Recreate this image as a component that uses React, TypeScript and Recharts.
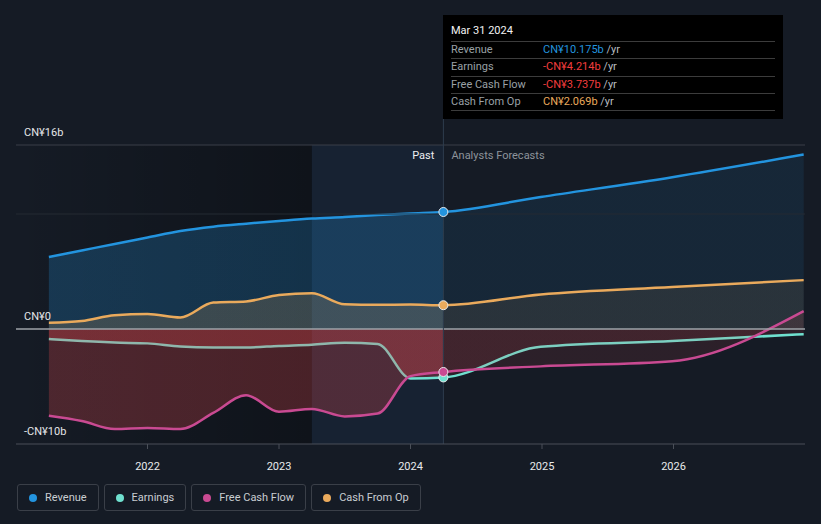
import React from 'react';
import {
  ComposedChart,
  Area,
  XAxis,
  YAxis,
  ReferenceLine,
  ReferenceArea,
  ReferenceDot,
} from 'recharts';

// ---- data (CN¥ billions, fractional years) ----
const pastDates = [2021.25, 2021.5, 2021.75, 2022.0, 2022.25, 2022.5, 2022.75, 2023.0, 2023.25, 2023.5, 2023.75, 2024.0, 2024.25];
const revenuePast = [6.26, 6.83, 7.4, 7.96, 8.52, 8.9, 9.16, 9.39, 9.6, 9.74, 9.91, 10.05, 10.175];
const earningsPast = [-0.87, -1.05, -1.18, -1.25, -1.52, -1.6, -1.6, -1.47, -1.37, -1.2, -1.3, -4.3, -4.214];
const fcfPast = [-7.54, -8.0, -8.7, -8.6, -8.7, -7.3, -5.75, -7.2, -6.95, -7.6, -7.35, -4.1, -3.737];
const cfoPast = [0.55, 0.7, 1.2, 1.3, 1.0, 2.3, 2.4, 2.95, 3.1, 2.15, 2.1, 2.12, 2.069];

// forecasts (first entry = last reported point)
const forecastDates = [2024.25, 2024.99, 2025.99, 2026.99];
const revenueForecast = [10.175, 11.48, 13.2, 15.17];
const earningsForecast = [-4.214, -1.55, -1.05, -0.45];
const fcfForecast = [-3.737, -3.25, -2.8, 1.56];
const cfoForecast = [2.069, 3.0, 3.65, 4.25];

const yearTicks = [2022, 2023, 2024, 2025, 2026];
const yLabels = ['CN¥16b', 'CN¥0', '-CN¥10b'];
const tooltipDate = 'Mar 31 2024';
const nowDate = 2024.25;
const pastStart = 2023.25;

const COLORS = {
  revenue: '#2394df',
  earnings: '#6fe0cf',
  fcf: '#c94a92',
  cfo: '#eaaa5c',
};

const seriesNames = [
  { key: 'revenue', name: 'Revenue' },
  { key: 'earnings', name: 'Earnings' },
  { key: 'fcf', name: 'Free Cash Flow' },
  { key: 'cfo', name: 'Cash From Op' },
];

// ---- build rows (one continuous series each) ----
const allDates = [...pastDates, ...forecastDates.slice(1)];
const revenueAll = [...revenuePast, ...revenueForecast.slice(1)];
const earningsAll = [...earningsPast, ...earningsForecast.slice(1)];
const fcfAll = [...fcfPast, ...fcfForecast.slice(1)];
const cfoAll = [...cfoPast, ...cfoForecast.slice(1)];

const rows = allDates.map((t, i) => ({
  t,
  revenue: revenueAll[i],
  earnings: earningsAll[i],
  fcf: fcfAll[i],
  cfo: cfoAll[i],
}));

const lastIdx = pastDates.length - 1;
const current = {
  revenue: revenuePast[lastIdx],
  earnings: earningsPast[lastIdx],
  fcf: fcfPast[lastIdx],
  cfo: cfoPast[lastIdx],
};

// fraction of each area's width that is "past"
const splitOffset = (nowDate - allDates[0]) / (allDates[allDates.length - 1] - allDates[0]);

const fmt = (v: number) => `${v < 0 ? '-' : ''}CN¥${Math.abs(v).toFixed(3)}b`;

const BG = '#151b25';
const FONT = 'Roboto, "Noto Sans", sans-serif';

const yLabelRenderer = (text: string) => (props: any) => {
  const vb = props.viewBox || {};
  return (
    <text x={24} y={vb.y - 12} fill="#e4e6e8" fontSize={11} fontFamily={FONT} dominantBaseline="middle">
      {text}
    </text>
  );
};

const pastLabel = (props: any) => {
  const vb = props.viewBox || {};
  return (
    <g fontFamily={FONT} fontSize={11}>
      <text x={vb.x - 9} y={vb.y + 11} fill="#eceef0" textAnchor="end" dominantBaseline="middle">
        Past
      </text>
      <text x={vb.x + 8} y={vb.y + 11} fill="#8d939b" textAnchor="start" dominantBaseline="middle">
        Analysts Forecasts
      </text>
    </g>
  );
};

const splitGradient = (id: string, color: string, past: number, future: number) => (
  <linearGradient id={id} x1="0" y1="0" x2="1" y2="0">
    <stop offset={0} stopColor={color} stopOpacity={past} />
    <stop offset={splitOffset} stopColor={color} stopOpacity={past} />
    <stop offset={splitOffset} stopColor={color} stopOpacity={future} />
    <stop offset={1} stopColor={color} stopOpacity={future} />
  </linearGradient>
);

export default function App() {
  return (
    <div
      style={{
        position: 'absolute',
        left: 0,
        top: 0,
        width: 821,
        height: 524,
        background: BG,
        fontFamily: FONT,
        overflow: 'hidden',
      }}
    >
      <ComposedChart width={821} height={524} data={rows} margin={{ top: 145, right: 16, bottom: 50, left: 16 }}>
        <defs>
          <linearGradient id="leftShade" x1="0" y1="0" x2="1" y2="0">
            <stop offset="0" stopColor="#000" stopOpacity={0} />
            <stop offset="1" stopColor="#000" stopOpacity={0.3} />
          </linearGradient>
          {splitGradient('revFill', COLORS.revenue, 0.24, 0.1)}
          {splitGradient('cfoFill', COLORS.cfo, 0.18, 0.09)}
          {splitGradient('negFill', '#e5484d', 0.27, 0.11)}
        </defs>

        <XAxis
          dataKey="t"
          type="number"
          domain={[2021, 2027]}
          ticks={yearTicks}
          allowDataOverflow
          height={30}
          tickSize={5}
          tickMargin={13}
          axisLine={{ stroke: '#4a4f58' }}
          tickLine={{ stroke: '#4a4f58' }}
          tick={{ fill: '#e8eaec', fontSize: 11, fontFamily: FONT }}
          tickFormatter={(v: number) => String(v)}
        />
        <YAxis hide type="number" domain={[-10, 16]} allowDataOverflow />

        <ReferenceArea x1={2021} x2={pastStart} fill="url(#leftShade)" fillOpacity={1} stroke="none" />
        <ReferenceArea x1={pastStart} x2={nowDate} fill="#2f80cc" fillOpacity={0.08} stroke="none" />

        <ReferenceLine y={10} stroke="#252a33" strokeWidth={1} />
        <ReferenceLine y={16} stroke="#3a3f48" strokeWidth={1} label={yLabelRenderer(yLabels[0])} />
        <ReferenceLine y={-10} stroke="none" label={yLabelRenderer(yLabels[2])} />

        <Area type="monotone" dataKey="revenue" stroke={COLORS.revenue} strokeWidth={2.5} fill="url(#revFill)" fillOpacity={1} dot={false} activeDot={false} isAnimationActive={false} />
        <Area type="monotone" dataKey="cfo" stroke={COLORS.cfo} strokeWidth={2.5} fill="url(#cfoFill)" fillOpacity={1} dot={false} activeDot={false} isAnimationActive={false} />
        <Area type="monotone" dataKey="earnings" stroke={COLORS.earnings} strokeWidth={2.5} fill="url(#negFill)" fillOpacity={1} dot={false} activeDot={false} isAnimationActive={false} />
        <Area type="monotone" dataKey="fcf" stroke={COLORS.fcf} strokeWidth={2.5} fill="url(#negFill)" fillOpacity={1} dot={false} activeDot={false} isAnimationActive={false} />

        <ReferenceLine y={0} stroke="#9ea3a9" strokeWidth={1.5} label={yLabelRenderer(yLabels[1])} />
        <ReferenceLine
          segment={[
            { x: nowDate, y: 18.26 },
            { x: nowDate, y: -10 },
          ]}
          ifOverflow="visible"
          stroke="#2e3d4e"
          strokeWidth={1}
        />
        <ReferenceLine x={nowDate} stroke="none" label={pastLabel} />

        <ReferenceDot x={nowDate} y={current.revenue} r={4.5} fill={COLORS.revenue} stroke="#e6e8ea" strokeWidth={1} />
        <ReferenceDot x={nowDate} y={current.cfo} r={4.5} fill={COLORS.cfo} stroke="#e6e8ea" strokeWidth={1} />
        <ReferenceDot x={nowDate} y={current.earnings} r={4.5} fill={COLORS.earnings} stroke="#e6e8ea" strokeWidth={1} />
        <ReferenceDot x={nowDate} y={current.fcf} r={4.5} fill={COLORS.fcf} stroke="#e6e8ea" strokeWidth={1} />
      </ComposedChart>

      {/* tooltip */}
      <div
        style={{
          position: 'absolute',
          left: 443,
          top: 15,
          width: 340,
          height: 104,
          background: '#000',
          fontSize: 11,
          color: '#fff',
        }}
      >
        <div style={{ position: 'absolute', left: 8, top: 10, lineHeight: '12px', color: '#f2f2f2' }}>{tooltipDate}</div>
        <div style={{ position: 'absolute', left: 8, top: 26, width: 324, borderBottom: '1px solid #3c3c3c' }}>
          {[
            { label: 'Revenue', value: current.revenue, color: COLORS.revenue },
            { label: 'Earnings', value: current.earnings, color: '#f23d3d' },
            { label: 'Free Cash Flow', value: current.fcf, color: '#f23d3d' },
            { label: 'Cash From Op', value: current.cfo, color: COLORS.cfo },
          ].map((r) => (
            <div
              key={r.label}
              style={{
                position: 'relative',
                height: 17.33,
                lineHeight: '16.5px',
                borderTop: '1px solid #3c3c3c',
                boxSizing: 'border-box',
              }}
            >
              <span style={{ position: 'absolute', left: 0, color: '#9aa0a6' }}>{r.label}</span>
              <span style={{ position: 'absolute', left: 92, whiteSpace: 'nowrap' }}>
                <span style={{ color: r.color }}>{fmt(r.value)}</span>
                <span style={{ color: '#b8bcc0' }}> /yr</span>
              </span>
            </div>
          ))}
        </div>
      </div>

      {/* legend */}
      <div style={{ position: 'absolute', left: 17, top: 484, display: 'flex', gap: 5 }}>
        {seriesNames.map((s) => (
          <div
            key={s.key}
            style={{
              height: 27,
              boxSizing: 'border-box',
              border: '1px solid #3a3f48',
              borderRadius: 3,
              display: 'flex',
              alignItems: 'center',
              paddingLeft: 11,
              paddingRight: 11,
              fontSize: 11,
              color: '#c9cdd2',
            }}
          >
            <span
              style={{
                display: 'inline-block',
                width: 8,
                height: 8,
                borderRadius: 4,
                background: (COLORS as any)[s.key],
                marginRight: 8,
              }}
            />
            {s.name}
          </div>
        ))}
      </div>
    </div>
  );
}
